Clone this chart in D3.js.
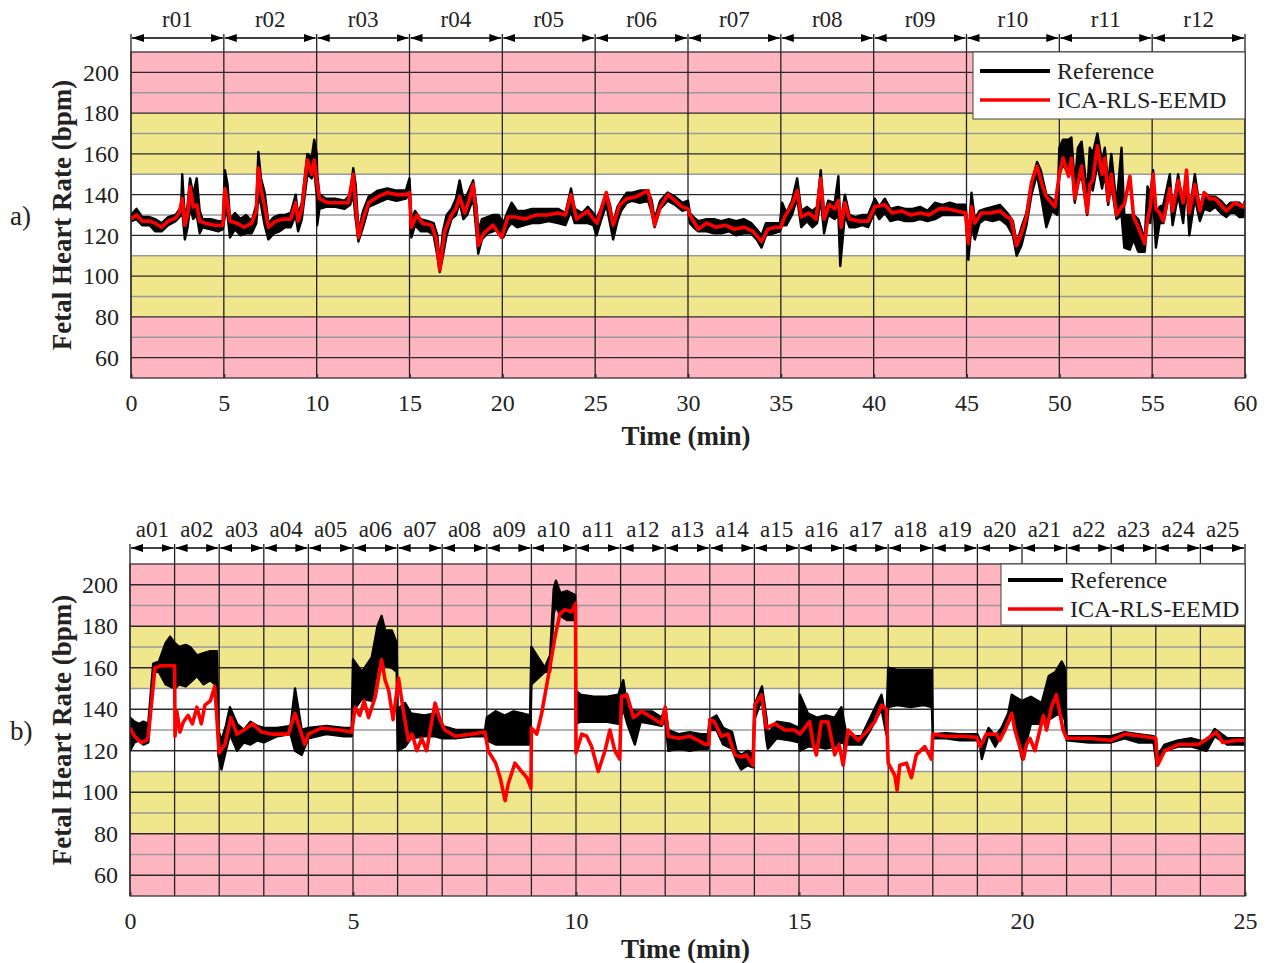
<!DOCTYPE html>
<html>
<head>
<meta charset="utf-8">
<script src="https://cdn.jsdelivr.net/npm/d3@7"></script>
<style>
  body { margin: 0; background: #fff; }
  text { font-family: "Liberation Serif", "Times New Roman", serif; fill: #222; }
</style>
</head>
<body>
<script>
// ---- data ----
var bandLimits = [50, 80, 110, 150, 180, 210];
var yTicks = [60, 80, 100, 120, 140, 160, 180, 200];
var gridValues = [60, 70, 80, 90, 100, 110, 120, 130, 140, 150, 160, 170, 180, 190, 200];

var segLabelsA = ["r01","r02","r03","r04","r05","r06","r07","r08","r09","r10","r11","r12"];
var segLabelsB = ["a01","a02","a03","a04","a05","a06","a07","a08","a09","a10","a11","a12","a13",
                  "a14","a15","a16","a17","a18","a19","a20","a21","a22","a23","a24","a25"];
var xTicksA = [0, 5, 10, 15, 20, 25, 30, 35, 40, 45, 50, 55, 60];
var xTicksB = [0, 5, 10, 15, 20, 25];
var seriesNames = ["Reference", "ICA-RLS-EEMD"];

// reference trace: [time (min), low, high] envelope of the noisy black line
var refA = [
[0,127,130],[0.3,128,133],[0.6,125,129],[1,125,129],[1.3,122,128],[1.65,122,126],[2,125,129],[2.4,127,130],
[2.7,130,134],[2.76,132,150],[2.9,118,128],[3.05,124,135],[3.18,134,148],[3.35,128,140],[3.54,130,148],
[3.7,121,132],[3.85,124,128],[4.3,123,128],[4.7,122,127],[4.95,123,127],[5.06,130,152],[5.2,130,145],
[5.33,119,128],[5.6,123,131],[5.9,120,128],[6.2,121,130],[6.5,121,127],[6.75,126,135],[6.86,140,161],
[7,135,148],[7.2,125,141],[7.4,118,126],[7.7,121,129],[8,122,130],[8.3,124,130],[8.6,124,131],[8.87,130,140],
[9,122,130],[9.2,128,136],[9.5,150,160],[9.73,148,158],[9.87,152,167],[10,140,160],[10.03,125,150],
[10.15,133,140],[10.5,134,138],[11,134,138],[11.5,133,137],[11.8,135,140],[11.97,140,153],[12.1,128,145],
[12.25,117,122],[12.5,124,132],[12.8,134,139],[13.3,136,142],[13.8,138,143],[14.3,137,142],[14.8,138,142],
[15,140,148],[15.1,119,128],[15.3,125,132],[15.6,122,128],[16,122,127],[16.3,120,126],[16.5,110,120],
[16.63,102,106],[16.8,110,122],[17,120,130],[17.26,128,133],[17.5,130,138],[17.7,136,147],[17.9,128,138],
[18.1,130,140],[18.43,138,147],[18.6,122,135],[18.7,111,122],[18.9,118,128],[19.2,121,129],[19.5,122,130],
[19.8,123,130],[20.05,119,126],[20.3,124,132],[20.5,126,136],[20.8,124,132],[21.2,125,132],[21.6,126,133],
[22,126,133],[22.5,127,133],[23,126,133],[23.4,125,131],[23.7,132,143],[23.9,126,133],[24.3,126,131],
[24.6,126,134],[24.9,125,131],[25.07,120,128],[25.3,127,133],[25.6,135,141],[25.8,126,135],[25.97,118,126],
[26.2,127,134],[26.4,132,137],[26.7,136,141],[27,137,141],[27.4,136,142],[27.85,137,142],[28.05,131,137],
[28.2,124,128],[28.5,133,137],[28.9,137,141],[29.3,135,139],[29.7,132,136],[30,133,137],[30.1,126,131],
[30.3,124,129],[30.55,122,127],[31,122,128],[31.4,121,128],[31.8,121,127],[32.2,122,128],[32.6,120,127],
[33,121,128],[33.4,121,126],[33.7,118,123],[33.96,114,120],[34.2,120,126],[34.6,121,126],[34.95,122,126],
[35.07,125,136],[35.3,125,131],[35.6,130,137],[35.88,138,148],[36.1,124,132],[36.4,127,134],[36.7,124,132],
[36.95,126,134],[37.15,138,152],[37.33,121,130],[37.55,130,137],[37.9,128,136],[38.1,130,149],[38.2,105,125],
[38.45,130,140],[38.7,124,130],[39,124,129],[39.4,125,130],[39.7,124,130],[40.06,132,138],[40.3,128,134],
[40.6,131,138],[40.9,127,133],[41.3,128,134],[41.7,127,133],[42.1,127,133],[42.5,128,134],[42.9,127,132],
[43.3,128,136],[43.7,130,135],[44.1,130,136],[44.5,130,135],[44.95,130,135],[45.1,108,118],[45.27,125,141],
[45.45,118,128],[45.7,126,132],[46,128,133],[46.4,127,134],[46.8,128,135],[47.2,125,131],[47.5,120,127],
[47.7,110,116],[47.96,115,124],[48.23,125,131],[48.5,140,146],[48.8,150,156],[49,140,152],[49.3,124,140],
[49.6,132,138],[49.9,130,135],[50,150,163],[50.2,155,167],[50.5,150,167],[50.65,158,168],[50.83,136,145],
[51,145,163],[51.2,150,166],[51.5,130,140],[51.64,145,163],[51.8,142,160],[52.05,155,170],[52.3,143,156],
[52.45,150,163],[52.63,135,145],[52.8,145,160],[53.08,128,135],[53.35,130,163],[53.5,114,130],[53.8,113,130],
[54,118,130],[54.25,112,128],[54.6,112,118],[54.75,130,144],[54.9,126,140],[55.05,140,152],[55.2,114,130],
[55.4,126,134],[55.6,126,135],[55.95,142,150],[56.1,125,132],[56.4,140,150],[56.67,126,133],[56.85,145,152],
[57,120,131],[57.3,138,150],[57.57,127,133],[57.8,133,141],[58.1,132,139],[58.4,134,139],[58.7,131,137],
[59,129,134],[59.2,131,136],[59.45,131,136],[59.7,129,136],[59.9,129,134],[60,131,137]
];

var icaA = [
[0,128],[0.3,130],[0.6,127],[1,127],[1.3,126],[1.65,124],[2,127],[2.4,128.5],[2.6,131],[2.76,138],[2.9,125],
[3.05,130],[3.18,144],[3.35,134],[3.54,135],[3.7,127],[4,126],[4.5,125],[4.95,125],[5.06,143],[5.2,136],
[5.33,127],[5.7,126],[6.1,124],[6.5,126],[6.75,132],[6.86,153],[7,143],[7.2,134],[7.4,124],[7.8,127],[8.2,128],
[8.6,128],[8.87,136],[9,127],[9.2,133],[9.5,157],[9.73,150],[9.87,157],[10,147],[10.15,138],[10.6,136],
[11.2,136],[11.7,136],[11.97,150],[12.1,135],[12.25,119],[12.5,128],[12.8,136],[13.3,139],[13.8,141],
[14.3,140],[14.8,140],[15,141],[15.1,124],[15.4,130],[15.7,126],[16.2,125],[16.45,118],[16.63,103],
[16.9,122],[17.26,130],[17.5,133],[17.7,139],[17.98,131],[18.2,137],[18.43,145],[18.6,130],[18.7,115],
[19,121],[19.5,125],[19.96,119],[20.3,129],[20.7,129],[21.2,128],[21.8,130],[22.4,130],[23,131],[23.4,130],
[23.7,140],[24,128],[24.3,130],[24.6,132],[24.9,128],[25.1,126],[25.6,141],[25.97,125],[26.33,135],
[26.7,138],[27.2,139],[27.85,142],[28.05,133],[28.2,125],[28.5,134],[28.93,140],[29.3,137],[29.7,134],
[30,133],[30.1,130],[30.55,123],[31,126],[31.5,124],[32,125],[32.5,123],[33,124],[33.5,122],[33.96,117],
[34.3,123],[34.7,124],[35,124],[35.2,129],[35.6,135],[35.88,142],[36.1,129],[36.5,131],[36.9,128],
[37.15,148],[37.33,128],[37.6,135],[37.9,133],[38.1,137],[38.25,124],[38.45,136],[38.7,128],[39.2,127],
[39.7,127],[40.06,134],[40.6,135],[41,131],[41.5,132],[42,130],[42.5,131],[43,130],[43.5,133],[44,133],
[44.5,132],[44.95,131],[45.1,116],[45.27,134],[45.45,126],[45.8,131],[46.3,131],[46.8,132],[47.2,129],
[47.4,128],[47.7,115],[47.96,121],[48.23,129],[48.5,146],[48.8,154],[49.1,144],[49.3,139],[49.76,134],
[50,150],[50.2,158],[50.5,149],[50.65,158],[50.83,138],[51.2,154],[51.5,131],[51.64,145],[51.8,147],
[52.05,164],[52.3,150],[52.45,158],[52.63,137],[52.8,150],[53.08,130],[53.35,134],[53.5,135],[53.8,149],
[54,129],[54.25,124],[54.6,116],[54.75,128],[54.9,134],[55.05,150],[55.2,133],[55.4,131],[55.6,127],
[55.95,143],[56.1,132],[56.4,147],[56.67,136],[56.85,152],[57,131],[57.3,145],[57.57,132],[57.8,141],
[58.1,138],[58.4,138],[58.7,135],[59,132],[59.45,136],[59.9,134],[60,136]
];

var refB = [
[0,120,136],[0.1,124,134],[0.2,125,133],[0.3,123,134],[0.41,124,133],[0.52,158,162],[0.65,158,163],
[0.8,152,172],[0.9,151,175],[1,150,172],[1.1,152,170],[1.25,151,171],[1.35,153,170],[1.5,156,166],
[1.65,152,167],[1.8,154,168],[1.95,151,168],[1.98,118,130],[2.05,111,125],[2.15,120,132],[2.24,128,141],
[2.4,120,133],[2.55,124,130],[2.7,123,134],[2.85,125,132],[3,124,131],[3.3,127,131],[3.6,128,132],
[3.7,120,150],[3.85,118,130],[4,126,131],[4.4,128,132],[4.8,127,131],[4.97,127,131],[5,139,164],
[5.2,145,158],[5.42,144,165],[5.55,160,180],[5.64,162,185],[5.72,161,178],[5.87,160,178],[5.98,158,172],
[6,120,140],[6.17,122,143],[6.3,126,138],[6.6,127,137],[6.84,127,138],[7,126,132],[7.3,126,130],
[7.66,127,130],[7.96,127,130],[8,125,136],[8.2,123,139],[8.4,123,137],[8.6,123,139],[8.8,123,138],
[8.97,123,137],[9,152,170],[9.15,155,165],[9.3,158,160],[9.42,158,166],[9.5,186,198],[9.55,190,202],
[9.65,185,196],[9.8,183,197],[9.98,183,195],[10,133,149],[10.1,134,147],[10.4,134,146],[10.7,134,146],
[10.95,133,147],[11.06,140,154],[11.15,133,141],[11.32,123,139],[11.45,134,139],[11.7,133,139],
[11.92,132,136],[12,135,141],[12.07,120,130],[12.3,121,128],[12.55,120,129],[12.8,121,128],[12.96,121,128],
[13,130,135],[13.15,130,137],[13.3,123,131],[13.5,121,129],[13.6,115,120],[13.7,111,118],[13.85,113,120],
[13.97,112,118],[14,135,142],[14.17,145,151],[14.27,125,136],[14.3,121,128],[14.5,126,134],[14.8,125,133],
[15,124,131],[15.02,120,147],[15.2,122,138],[15.4,122,136],[15.6,121,137],[15.8,122,136],[15.95,124,141],
[16.07,123,127],[16.4,123,127],[16.6,130,136],[16.85,140,147],[16.96,128,134],[17,141,160],[17.2,142,159],
[17.5,141,159],[17.8,142,159],[17.98,141,159],[18,126,128],[18.3,126,128.5],[18.6,125,128],[19,125,128],
[19.06,122,125],[19.1,116,122],[19.25,128,131],[19.4,122,127],[19.54,128,131],[19.69,133,138],
[19.77,137,147],[19.84,133,146],[20,116,144],[20.2,133,146],[20.44,133,143],[20.6,135,156],[20.75,137,158],
[20.89,138,163],[20.96,135,160],[21,125,127],[21.5,124,127],[22,124,127],[22.3,126,129],[22.6,124,128],
[22.95,124,127],[23.02,113,117],[23.2,120,123],[23.5,122,125],[23.8,122,126],[24.14,120,124],
[24.32,127,130.5],[24.6,123,126],[25,123,126]
];

var icaB = [
[0,131],[0.1,127],[0.25,124],[0.37,125],[0.41,127],[0.56,160],[0.7,161],[1,161],[1.01,127],[1.05,139],
[1.12,129],[1.2,134],[1.3,137],[1.4,133],[1.5,141],[1.6,133],[1.68,142],[1.8,144],[1.9,151],[2,119],
[2.13,123],[2.26,136],[2.4,128],[2.55,130],[2.75,133],[2.95,129],[3.2,128],[3.55,128],[3.7,138],[3.92,123],
[4,128],[4.3,131],[4.7,130],[4.97,129],[5.05,141],[5.15,137],[5.25,144],[5.35,136],[5.5,146],[5.64,164],
[5.72,154],[5.8,149],[5.9,135],[6.02,155],[6.13,139],[6.24,125],[6.33,128],[6.43,120],[6.54,126],
[6.65,120],[6.84,143],[6.95,135],[7.06,130],[7.29,127],[7.66,128],[7.96,129],[8.03,120],[8.2,114],
[8.3,107],[8.41,96],[8.48,104],[8.63,114],[8.78,110],[8.9,107],[8.99,102],[9,131],[9.12,128],[9.23,138],
[9.38,156],[9.53,175],[9.64,186],[9.75,188],[9.9,187],[9.99,191],[10,119],[10.13,128],[10.24,127],
[10.35,122],[10.5,110],[10.65,120],[10.76,130],[10.87,120],[10.98,116],[11.02,146],[11.14,147],
[11.29,136],[11.47,139],[11.7,136],[11.92,133],[12,141],[12.07,127],[12.3,126],[12.55,127],[12.74,125],
[12.9,123],[12.98,123],[13,135],[13.1,134],[13.26,127],[13.41,128],[13.56,118],[13.71,117],[13.82,118],
[13.97,113],[14.01,142],[14.16,147],[14.27,131],[14.46,133],[14.68,130],[14.9,130],[15.02,128],
[15.13,131],[15.24,134],[15.32,123],[15.39,118],[15.5,134],[15.65,134],[15.8,118],[15.9,123],[15.99,113],
[16.1,130],[16.33,125],[16.55,130],[16.7,134],[16.85,142],[16.96,140],[17,114],[17.15,108],[17.2,101],
[17.26,113],[17.41,114],[17.52,107],[17.63,118],[17.82,122],[17.97,116],[18,128],[18.3,127],[18.7,127],
[18.98,126.5],[19.06,122],[19.2,128],[19.43,128],[19.5,125],[19.62,130],[19.77,138],[19.84,130],
[20.03,116],[20.1,123],[20.18,126],[20.29,120],[20.4,130],[20.48,137],[20.55,130],[20.66,141],
[20.77,147],[20.85,138],[20.92,130],[21,126],[21.5,126],[22,125],[22.3,128],[22.7,127],[23,126],
[23.04,113],[23.2,120],[23.5,123],[23.95,123],[24.1,125],[24.36,129],[24.5,124],[24.8,125],[25,125]
];

// ---- drawing ----
var bandColors = ["#ffb6c1", "#f0e68c", "#ffffff", "#f0e68c", "#ffb6c1"];

var svg = d3.select("body").append("svg")
    .attr("width", 1272)
    .attr("height", 963);

var defs = svg.append("defs");
defs.append("marker").attr("id", "arrEnd")
    .attr("viewBox", "0 0 12 8").attr("refX", 12).attr("refY", 4)
    .attr("markerWidth", 12).attr("markerHeight", 8)
    .attr("markerUnits", "userSpaceOnUse").attr("orient", "auto")
  .append("path").attr("d", "M0,0L12,4L0,8Z").attr("fill", "#000");
defs.append("marker").attr("id", "arrStart")
    .attr("viewBox", "0 0 12 8").attr("refX", 0).attr("refY", 4)
    .attr("markerWidth", 12).attr("markerHeight", 8)
    .attr("markerUnits", "userSpaceOnUse").attr("orient", "auto")
  .append("path").attr("d", "M12,0L0,4L12,8Z").attr("fill", "#000");

function drawPanel(p) {
  var x = d3.scaleLinear().domain([0, p.xMax]).range([p.left, p.right]);
  var y = d3.scaleLinear().domain([50, 210]).range([p.bottom, p.top]);
  var g = svg.append("g");

  defs.append("clipPath").attr("id", p.id + "clip")
    .append("rect").attr("x", p.left).attr("y", p.top)
    .attr("width", p.right - p.left).attr("height", p.bottom - p.top);

  // colour bands
  g.selectAll(".band").data(d3.pairs(bandLimits)).enter().append("rect")
    .attr("x", p.left).attr("width", p.right - p.left)
    .attr("y", function(d){ return y(d[1]); })
    .attr("height", function(d){ return y(d[0]) - y(d[1]); })
    .attr("fill", function(d, i){ return bandColors[i]; });

  // horizontal grid
  g.selectAll(".hgrid").data(gridValues).enter().append("line")
    .attr("x1", p.left).attr("x2", p.right)
    .attr("y1", function(d){ return y(d); }).attr("y2", function(d){ return y(d); })
    .attr("stroke", function(d){ return d % 20 === 0 ? "#2a2a2a" : "#9a9a9a"; })
    .attr("stroke-width", 1.4);

  // segment boundaries
  var bounds = d3.range(p.labels.length + 1).map(function(i){ return i * p.segLen; });
  g.selectAll(".vgrid").data(bounds).enter().append("line")
    .attr("x1", function(d){ return x(d); }).attr("x2", function(d){ return x(d); })
    .attr("y1", p.bracketY - 4).attr("y2", p.bottom)
    .attr("stroke", "#222").attr("stroke-width", 1.3);

  // brackets with arrows
  g.selectAll(".brk").data(p.labels).enter().append("line")
    .attr("x1", function(d, i){ return x(i * p.segLen) + 1; })
    .attr("x2", function(d, i){ return x((i + 1) * p.segLen) - 1; })
    .attr("y1", p.bracketY).attr("y2", p.bracketY)
    .attr("stroke", "#000").attr("stroke-width", 1.3)
    .attr("marker-start", "url(#arrStart)").attr("marker-end", "url(#arrEnd)");
  g.selectAll(".seg").data(p.labels).enter().append("text")
    .attr("x", function(d, i){ return x((i + 0.5) * p.segLen); })
    .attr("y", p.bracketY - 11)
    .attr("text-anchor", "middle").attr("font-size", "23px")
    .text(function(d){ return d; });

  // traces
  var plot = g.append("g").attr("clip-path", "url(#" + p.id + "clip)");
  plot.append("path").datum(p.ref)
    .attr("d", d3.area()
      .x(function(d){ return x(d[0]); })
      .y0(function(d){ return y(d[1]); })
      .y1(function(d){ return y(d[2]); }))
    .attr("fill", "#000").attr("stroke", "#000")
    .attr("stroke-width", 2.4).attr("stroke-linejoin", "round");
  plot.append("path").datum(p.ica)
    .attr("d", d3.line()
      .x(function(d){ return x(d[0]); })
      .y(function(d){ return y(d[1]); }))
    .attr("fill", "none").attr("stroke", "#ff0000")
    .attr("stroke-width", 3.6).attr("stroke-linejoin", "round");

  // frame
  g.append("rect").attr("x", p.left).attr("y", p.top)
    .attr("width", p.right - p.left).attr("height", p.bottom - p.top)
    .attr("fill", "none").attr("stroke", "#333").attr("stroke-width", 1.3);

  // axes
  var ya = g.append("g").attr("transform", "translate(" + p.left + ",0)")
    .call(d3.axisLeft(y).tickValues(yTicks).tickSize(0).tickPadding(12));
  ya.select(".domain").remove();
  ya.selectAll("text").attr("font-size", "24px")
    .attr("font-family", "Liberation Serif").attr("fill", "#222");

  var xa = g.append("g").attr("transform", "translate(0," + p.bottom + ")")
    .call(d3.axisBottom(x).tickValues(p.xTicks).tickSizeInner(-4).tickSizeOuter(0).tickPadding(16));
  xa.select(".domain").remove();
  xa.selectAll("line").attr("stroke", "#333").attr("stroke-width", 2);
  xa.selectAll("text").attr("font-size", "24px")
    .attr("font-family", "Liberation Serif").attr("fill", "#222");

  // titles
  g.append("text").attr("x", (p.left + p.right) / 2 - 2).attr("y", p.xTitleY)
    .attr("text-anchor", "middle").attr("font-size", "27px").attr("font-weight", "bold")
    .text("Time (min)");
  g.append("text")
    .attr("transform", "translate(" + 71 + "," + ((p.top + p.bottom) / 2) + ") rotate(-90)")
    .attr("text-anchor", "middle").attr("font-size", "27px").attr("font-weight", "bold")
    .text("Fetal Heart Rate (bpm)");
  g.append("text").attr("x", 10).attr("y", (p.top + p.bottom) / 2 + 10)
    .attr("font-size", "27px").text(p.tag);

  // legend
  var L = p.legend;
  var lg = g.append("g");
  lg.append("rect").attr("x", L.x).attr("y", L.y).attr("width", L.w).attr("height", L.h)
    .attr("fill", "#fff").attr("stroke", "#444").attr("stroke-width", 1);
  var legColors = ["#000", "#ff0000"];
  var legWidths = [4, 3.6];
  seriesNames.forEach(function(name, i) {
    var ly = L.y + L.row0 + i * L.gap;
    lg.append("line").attr("x1", L.x + 7).attr("x2", L.x + 7 + L.lineLen)
      .attr("y1", ly).attr("y2", ly)
      .attr("stroke", legColors[i]).attr("stroke-width", legWidths[i]);
    lg.append("text").attr("x", L.x + 14 + L.lineLen).attr("y", ly + 8)
      .attr("font-size", "24px").text(name);
  });
}

drawPanel({
  id: "a", tag: "a)", left: 131, right: 1245, top: 52, bottom: 378, xMax: 60, segLen: 5,
  labels: segLabelsA, xTicks: xTicksA, bracketY: 38, xTitleY: 445,
  ref: refA, ica: icaA,
  legend: { x: 973, y: 52, w: 272, h: 67, row0: 19, gap: 29, lineLen: 70 }
});

drawPanel({
  id: "b", tag: "b)", left: 130, right: 1245, top: 564, bottom: 896, xMax: 25, segLen: 1,
  labels: segLabelsB, xTicks: xTicksB, bracketY: 548, xTitleY: 958,
  ref: refB, ica: icaB,
  legend: { x: 1001, y: 564, w: 244, h: 61, row0: 16, gap: 29, lineLen: 55 }
});
</script>
</body>
</html>
